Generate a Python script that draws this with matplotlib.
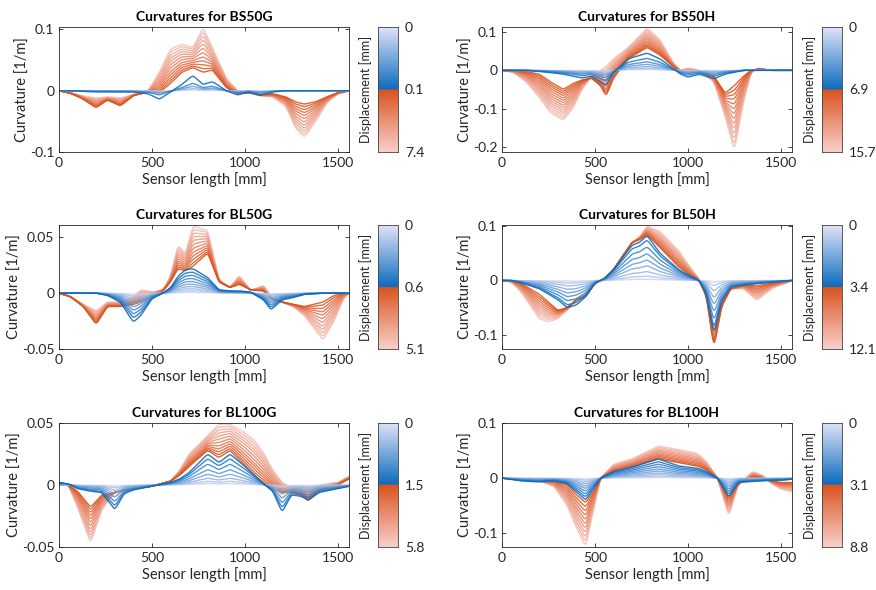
import matplotlib.pyplot as plt
import numpy as np
from matplotlib.colors import LinearSegmentedColormap, to_rgb

# --- data ---
titles = ['BS50G', 'BS50H', 'BL50G', 'BL50H', 'BL100G', 'BL100H']
disp_ticks = [['0', '0.1', '7.4'], ['0', '6.9', '15.7'], ['0', '0.6', '5.1'],
              ['0', '3.4', '12.1'], ['0', '1.5', '5.8'], ['0', '3.1', '8.8']]
ylims = [(-0.1, 0.104), (-0.213, 0.113), (-0.05, 0.061),
         (-0.126, 0.102), (-0.05, 0.05), (-0.125, 0.1)]
yticks = [[-0.1, 0, 0.1], [-0.2, -0.1, 0, 0.1], [-0.05, 0, 0.05],
          [-0.1, 0, 0.1], [-0.05, 0, 0.05], [-0.1, 0, 0.1]]

# BS50G
bs50g_x = [0, 60, 120, 200, 260, 330, 400, 480, 540, 600, 660, 720, 775, 825, 900,
           960, 1020, 1080, 1150, 1220, 1270, 1320, 1380, 1440, 1500, 1560]
bs50g_blue = [0, 0, -0.001, -0.002, -0.002, -0.002, -0.002, -0.005, -0.014, -0.002, 0.01, 0.025, 0.01,
              0.015, 0.0, -0.007, -0.002, -0.008, -0.002, 0, 0, 0, 0, 0, 0, 0]
bs50g_or0 = [0, -0.004, -0.012, -0.028, -0.015, -0.025, -0.008, -0.002, -0.003, 0.012, 0.03, 0.038, 0.03,
             0.034, 0.005, -0.005, -0.003, -0.006, -0.005, -0.01, -0.018, -0.022, -0.018, -0.01, -0.003, 0]
bs50g_or1 = [0, -0.003, -0.008, -0.012, -0.01, -0.012, -0.006, 0.0, 0.03, 0.068, 0.076, 0.07, 0.103,
             0.07, 0.02, 0.0, -0.003, -0.008, -0.01, -0.025, -0.06, -0.076, -0.05, -0.02, -0.005, 0]
bs50g_bscale = [0.05, 0.15, 0.3, 0.5, 1.0]
bs50g_omix = [0, 0.08, 0.17, 0.26, 0.35, 0.45, 0.55, 0.65, 0.74, 0.83, 0.92, 1.0]

# BS50H
bs50h_x = [0, 60, 130, 200, 260, 330, 380, 430, 480, 530, 560, 600, 680, 780, 850, 920,
           960, 1000, 1060, 1140, 1200, 1250, 1300, 1340, 1380, 1440, 1560]
bs50h_blue = [0, 0, 0, -0.003, -0.006, -0.01, -0.015, -0.02, -0.015, -0.03, -0.04, -0.005, 0.03, 0.045,
              0.03, 0.005, -0.01, -0.018, -0.01, -0.022, -0.01, -0.005, 0, 0, 0, 0, 0]
bs50h_or0 = [0, 0, -0.003, -0.01, -0.03, -0.05, -0.035, -0.025, -0.02, -0.04, -0.068, -0.02, 0.03, 0.06,
             0.04, 0.01, -0.005, -0.005, -0.005, -0.015, -0.06, -0.04, -0.015, 0, 0.003, 0, 0]
bs50h_or1 = [0, -0.005, -0.03, -0.07, -0.11, -0.13, -0.1, -0.05, -0.015, 0.0, 0.01, 0.03, 0.06, 0.11,
             0.08, 0.02, 0.0, 0.006, 0.0, -0.03, -0.12, -0.21, -0.08, -0.005, 0.006, 0, 0]
bs50h_bscale = [0.05, 0.12, 0.22, 0.35, 0.5, 0.7, 1.0]
bs50h_omix = [0, 0.07, 0.14, 0.21, 0.29, 0.37, 0.45, 0.53, 0.61, 0.69, 0.77, 0.85, 0.93, 1.0]

# BL50G
bl50g_x = [0, 60, 130, 200, 260, 330, 400, 440, 500, 560, 600, 640, 680, 720, 800, 860, 920,
           970, 1030, 1100, 1140, 1200, 1260, 1320, 1420, 1480, 1530, 1560]
bl50g_blue = [0, 0, 0, 0, -0.002, -0.008, -0.026, -0.02, -0.005, 0.0, 0.005, 0.015, 0.021, 0.022,
              0.014, 0.003, 0.002, 0.002, 0.001, -0.006, -0.015, -0.006, -0.004, -0.001, 0, 0, 0, 0]
bl50g_or0 = [0, -0.003, -0.012, -0.028, -0.012, -0.012, -0.01, -0.008, -0.003, 0.002, 0.01, 0.022, 0.02,
             0.024, 0.036, 0.01, 0.005, 0.008, 0.003, 0.002, -0.005, -0.008, -0.01, -0.012, -0.008,
             -0.002, 0, 0]
bl50g_or1 = [0, -0.003, -0.01, -0.016, -0.008, -0.008, -0.003, 0.003, 0.001, 0.003, 0.015, 0.043, 0.035,
             0.06, 0.056, 0.012, 0.005, 0.016, 0.002, 0.007, -0.003, -0.008, -0.012, -0.02, -0.042,
             -0.025, -0.005, 0]
bl50g_bscale = [0.04, 0.1, 0.18, 0.27, 0.37, 0.48, 0.6, 0.73, 0.86, 1.0]
bl50g_omix = [0, 0.08, 0.17, 0.26, 0.35, 0.45, 0.55, 0.65, 0.74, 0.83, 0.92, 1.0]

# BL50H
bl50h_x = [0, 50, 100, 200, 250, 300, 350, 400, 450, 500, 550, 600, 700, 740, 780, 850, 950,
           1000, 1060, 1100, 1140, 1180, 1230, 1300, 1370, 1450, 1560]
bl50h_blue = [0, 0, -0.004, -0.015, -0.025, -0.035, -0.05, -0.045, -0.03, -0.005, 0.003, 0.02, 0.065,
              0.07, 0.083, 0.05, 0.02, 0.01, 0.0, -0.025, -0.1, -0.04, -0.012, -0.008, -0.006, -0.003, 0]
bl50h_or0 = [0, 0, -0.005, -0.025, -0.04, -0.055, -0.05, -0.035, -0.03, -0.005, 0.003, 0.02, 0.07,
             0.075, 0.085, 0.06, 0.025, 0.012, 0.0, -0.03, -0.125, -0.05, -0.015, -0.008, -0.01,
             -0.005, 0]
bl50h_or1 = [0, -0.003, -0.02, -0.07, -0.076, -0.07, -0.055, -0.035, -0.025, -0.005, 0.003, 0.02, 0.07,
             0.08, 0.1, 0.09, 0.055, 0.03, 0.003, -0.02, -0.09, -0.03, -0.015, -0.015, -0.037,
             -0.015, 0]
bl50h_bscale = [0.03, 0.1, 0.2, 0.33, 0.46, 0.6, 0.75, 0.9, 1.0]
bl50h_omix = [0, 0.1, 0.2, 0.3, 0.4, 0.5, 0.6, 0.7, 0.8, 0.9, 1.0]

# BL100G
bl100g_x = [0, 50, 100, 170, 230, 300, 350, 400, 500, 600, 650, 700, 800, 860, 920, 1000,
            1050, 1100, 1150, 1200, 1250, 1300, 1340, 1400, 1500, 1560]
bl100g_blue = [0.002, 0.001, -0.003, -0.005, -0.006, -0.02, -0.007, -0.004, -0.001, 0.002, 0.005, 0.01,
               0.025, 0.018, 0.025, 0.015, 0.008, 0.001, -0.005, -0.022, -0.008, -0.009, -0.012,
               -0.006, -0.003, -0.001]
bl100g_or0 = [0.002, 0, -0.005, -0.018, -0.008, -0.006, -0.004, -0.003, -0.001, 0.003, 0.008, 0.015,
              0.028, 0.022, 0.028, 0.016, 0.008, 0.002, -0.003, -0.006, -0.006, -0.008, -0.013,
              -0.005, 0.0, 0.005]
bl100g_or1 = [0.002, 0.0, -0.018, -0.047, -0.02, -0.006, -0.004, -0.003, -0.001, 0.003, 0.012, 0.025,
              0.04, 0.049, 0.049, 0.042, 0.036, 0.026, 0.012, 0.002, -0.002, -0.002, -0.002, 0.0,
              0.002, 0.007]
bl100g_bscale = [0.05, 0.12, 0.22, 0.35, 0.5, 0.68, 0.85, 1.0]
bl100g_omix = [0, 0.08, 0.17, 0.26, 0.35, 0.45, 0.55, 0.65, 0.74, 0.83, 0.92, 1.0]

# BL100H
bl100h_x = [0, 100, 200, 280, 350, 400, 450, 500, 530, 600, 700, 840, 950, 1050, 1100, 1160,
            1220, 1270, 1350, 1400, 1450, 1500, 1560]
bl100h_blue = [0, -0.005, -0.007, -0.005, -0.01, -0.025, -0.04, -0.015, 0.0, 0.012, 0.02, 0.035, 0.022,
               0.018, 0.012, 0.0, -0.035, -0.008, -0.006, -0.005, -0.004, -0.004, -0.002]
bl100h_or0 = [0, -0.003, -0.005, -0.005, -0.012, -0.03, -0.045, -0.02, 0.0, 0.012, 0.02, 0.035, 0.028,
              0.022, 0.015, 0.0, -0.035, -0.01, 0.002, 0.0, -0.005, -0.008, -0.008]
bl100h_or1 = [0, -0.002, -0.005, -0.015, -0.05, -0.09, -0.125, -0.045, 0.0, 0.025, 0.035, 0.058, 0.052,
              0.045, 0.03, 0.0, -0.07, -0.012, 0.012, 0.005, -0.01, -0.02, -0.025]
bl100h_bscale = [0.04, 0.1, 0.18, 0.27, 0.37, 0.48, 0.6, 0.73, 0.86, 1.0]
bl100h_omix = [0, 0.1, 0.2, 0.3, 0.4, 0.5, 0.6, 0.7, 0.8, 0.9, 1.0]

panels = [
    (bs50g_x, bs50g_blue, bs50g_or0, bs50g_or1, bs50g_bscale, bs50g_omix),
    (bs50h_x, bs50h_blue, bs50h_or0, bs50h_or1, bs50h_bscale, bs50h_omix),
    (bl50g_x, bl50g_blue, bl50g_or0, bl50g_or1, bl50g_bscale, bl50g_omix),
    (bl50h_x, bl50h_blue, bl50h_or0, bl50h_or1, bl50h_bscale, bl50h_omix),
    (bl100g_x, bl100g_blue, bl100g_or0, bl100g_or1, bl100g_bscale, bl100g_omix),
    (bl100h_x, bl100h_blue, bl100h_or0, bl100h_or1, bl100h_bscale, bl100h_omix),
]

# --- style ---
plt.rcParams['font.family'] = ['Lato', 'DejaVu Sans']
blue_light, blue_dark = '#cbd3f3', '#0b6cbf'
or_dark, or_light = '#d9531e', '#f7c2ba'
cmap = LinearSegmentedColormap.from_list(
    'disp', [(0, '#e0e3f8'), (0.5, blue_dark), (0.5, or_dark), (1, '#f9cfca')])

x_fine = np.linspace(0, 1560, 600)


def smooth_profile(xk, yk):
    # piecewise-linear trace through the read points, lightly rounded
    y = np.interp(x_fine, xk, yk)
    k = np.exp(-0.5 * (np.arange(-8, 9) / 2.5) ** 2)
    k /= k.sum()
    yp = np.pad(y, 8, mode='edge')
    return np.convolve(yp, k, mode='valid')


def blend(c1, c2, t):
    a, b = np.array(to_rgb(c1)), np.array(to_rgb(c2))
    return tuple(a + (b - a) * t)


fig = plt.figure(figsize=(8.76, 5.9), dpi=100)
W, H = 876, 590
ax_lefts = [59, 502]
cb_lefts = [378, 822]
row_tops = [(27, 152), (225, 349), (423, 547)]

for i, (xk, blue, or0, or1, bscale, omix) in enumerate(panels):
    r, c = divmod(i, 2)
    top, bot = row_tops[r]
    ax = fig.add_axes([ax_lefts[c] / W, 1 - bot / H, 290 / W, (bot - top) / H])
    pb = smooth_profile(xk, blue)
    p0 = smooth_profile(xk, or0)
    p1 = smooth_profile(xk, or1)

    # orange family: lightest (largest displacement) first, darkest on top
    n = len(omix)
    for j in range(n - 1, -1, -1):
        t = j / (n - 1)
        ax.plot(x_fine, p0 + omix[j] * (p1 - p0), color=blend(or_dark, or_light, t),
                lw=1.0, alpha=0.9)
    # blue family
    m = len(bscale)
    for j in range(m):
        t = j / (m - 1)
        ax.plot(x_fine, pb * bscale[j], color=blend(blue_light, blue_dark, t), lw=1.0, alpha=0.9)

    ax.set_xlim(0, 1560)
    ax.set_ylim(*ylims[i])
    ax.set_xticks([0, 500, 1000, 1500])
    ax.set_yticks(yticks[i])
    ax.set_yticklabels([('%g' % v) for v in yticks[i]])
    ax.tick_params(direction='in', top=True, right=True, length=3, labelsize=10,
                   colors='#262626', width=0.6)
    for s in ax.spines.values():
        s.set_color('#262626')
        s.set_linewidth(0.6)
    ax.set_title('Curvatures for ' + titles[i], fontsize=10, fontweight='bold', pad=4)
    ax.set_xlabel('Sensor length [mm]', fontsize=10.5, color='#262626', labelpad=2)
    ax.set_ylabel('Curvature [1/m]', fontsize=10.5, color='#262626', labelpad=0)

    cax = fig.add_axes([cb_lefts[c] / W, 1 - bot / H, 20 / W, (bot - top) / H])
    grad = np.linspace(0, 1, 256)[:, None]
    cax.imshow(grad, cmap=cmap, aspect='auto', extent=[0, 1, 1, 0])
    cax.set_xticks([])
    cax.set_ylim(1, 0)
    cax.set_yticks([0, 0.5, 1])
    cax.set_yticklabels(disp_ticks[i])
    cax.yaxis.tick_right()
    cax.tick_params(length=0, labelsize=10, colors='#262626', pad=5)
    cax.set_ylabel('Displacement [mm]', fontsize=9, color='#262626', labelpad=4)
    cax.yaxis.set_label_position('left')
    for s in cax.spines.values():
        s.set_color('#404040')
        s.set_linewidth(0.6)

plt.savefig('out.png')
